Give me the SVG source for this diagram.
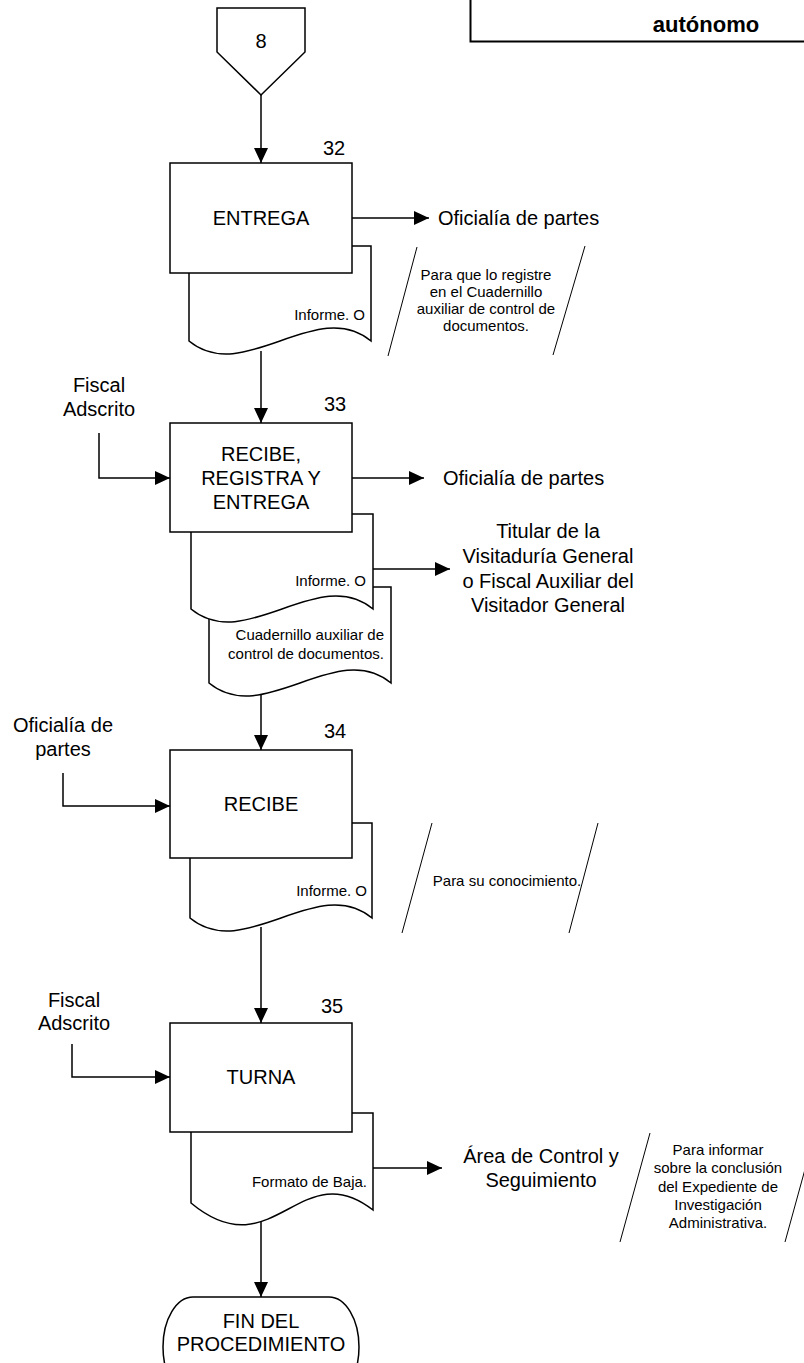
<svg xmlns="http://www.w3.org/2000/svg" width="804" height="1363" viewBox="0 0 804 1363">
<defs>
<marker id="ah" markerUnits="userSpaceOnUse" markerWidth="16" markerHeight="15" refX="15" refY="7" orient="auto">
<path d="M0,0 L15,7 L0,14 Z" fill="#000"/>
</marker>
<style>
text{font-family:"Liberation Sans",Arial,sans-serif;fill:#000}
.big{font-size:20px}
.sm{font-size:15px}
.mid{text-anchor:middle}
.end{text-anchor:end}
.shape{fill:#fff;stroke:#000;stroke-width:1.5}
.conn{fill:none;stroke:#000;stroke-width:1.5;marker-end:url(#ah)}
.slash{stroke:#000;stroke-width:1}
</style>
</defs>
<rect width="804" height="1363" fill="#fff"/>

<g id="header">
<rect x="470.5" y="-20" width="360" height="61.5" fill="#fff" stroke="#000" stroke-width="2"/>
<text x="706" y="32" class="mid" style="font-size:22px;font-weight:bold">autónomo</text>
</g>

<g id="connector8">
<path class="shape" d="M217,8 H305 V52 L261,95 L217,52 Z"/>
<text x="261" y="48" class="big mid">8</text>
</g>

<g id="connectors">
<path class="conn" d="M261,95 V163"/>
<path class="conn" d="M352,218 H429"/>
<path class="conn" d="M261,351 V423"/>
<path class="conn" d="M99,433 V478 H170"/>
<path class="conn" d="M352,478 H424"/>
<path class="conn" d="M373,569 H450"/>
<path class="conn" d="M261,692 V750"/>
<path class="conn" d="M63,773 V806 H170"/>
<path class="conn" d="M261,927 V1023"/>
<path class="conn" d="M72,1044 V1077 H170"/>
<path class="conn" d="M373,1168 H442"/>
<path class="conn" d="M261,1222 V1297"/>
</g>

<g id="step32">
<path class="shape" d="M189,246 H371 V341 C316.4,296 243.6,386 189,341 Z"/>
<rect class="shape" x="170" y="163" width="182" height="110"/>
<text x="323" y="155" class="big">32</text>
<text x="261" y="225" class="big mid">ENTREGA</text>
<text x="365" y="320" class="sm end">Informe. O</text>
</g>
<g id="dest32">
<text x="438" y="225" class="big">Oficialía de partes</text>
</g>
<g id="note32">
<line class="slash" x1="417" y1="247" x2="388" y2="356"/>
<line class="slash" x1="585" y1="246" x2="553" y2="355"/>
<text class="sm mid" x="486" y="280">Para que lo registre</text>
<text class="sm mid" x="486" y="297">en el Cuadernillo</text>
<text class="sm mid" x="486" y="314">auxiliar de control de</text>
<text class="sm mid" x="486" y="331">documentos.</text>
</g>

<g id="src33">
<text x="99" y="392" class="big mid">Fiscal</text>
<text x="99" y="416" class="big mid">Adscrito</text>
</g>
<g id="step33">
<path class="shape" d="M209,587 H391 V683 C336.4,638 263.6,728 209,683 Z"/>
<path class="shape" d="M191,514 H373 V609 C318.4,564 245.6,654 191,609 Z"/>
<rect class="shape" x="170" y="423" width="182" height="109"/>
<text x="324" y="411" class="big">33</text>
<text x="261" y="461" class="big mid">RECIBE,</text>
<text x="261" y="485" class="big mid">REGISTRA Y</text>
<text x="261" y="509" class="big mid">ENTREGA</text>
<text x="366" y="586" class="sm end">Informe. O</text>
<text x="384" y="640" class="sm end">Cuadernillo auxiliar de</text>
<text x="384" y="659" class="sm end">control de documentos.</text>
</g>
<g id="dest33a">
<text x="443" y="485" class="big">Oficialía de partes</text>
</g>
<g id="dest33b">
<text x="548" y="538" class="big mid">Titular de la</text>
<text x="548" y="563" class="big mid">Visitaduría General</text>
<text x="548" y="588" class="big mid">o Fiscal Auxiliar del</text>
<text x="548" y="612" class="big mid">Visitador General</text>
</g>

<g id="src34">
<text x="63" y="732" class="big mid">Oficialía de</text>
<text x="63" y="756" class="big mid">partes</text>
</g>
<g id="step34">
<path class="shape" d="M190,823 H372 V918 C317.4,873 244.6,963 190,918 Z"/>
<rect class="shape" x="170" y="750" width="182" height="108"/>
<text x="324" y="738" class="big">34</text>
<text x="261" y="811" class="big mid">RECIBE</text>
<text x="367" y="896" class="sm end">Informe. O</text>
</g>
<g id="note34">
<line class="slash" x1="432" y1="823" x2="402" y2="933"/>
<line class="slash" x1="598" y1="823" x2="569" y2="933"/>
<text class="sm mid" x="507" y="886">Para su conocimiento.</text>
</g>

<g id="src35">
<text x="74" y="1007" class="big mid">Fiscal</text>
<text x="74" y="1030" class="big mid">Adscrito</text>
</g>
<g id="step35">
<path class="shape" d="M191,1113 H373 V1210 C300.2,1153 272.9,1271 191,1203 Z"/>
<rect class="shape" x="170" y="1023" width="182" height="109"/>
<text x="321" y="1013" class="big">35</text>
<text x="261" y="1084" class="big mid">TURNA</text>
<text x="367" y="1187" class="sm end">Formato de Baja.</text>
</g>
<g id="dest35">
<text x="541" y="1163" class="big mid">Área de Control y</text>
<text x="541" y="1187" class="big mid">Seguimiento</text>
</g>
<g id="note35">
<line class="slash" x1="650" y1="1133" x2="620" y2="1242"/>
<line class="slash" x1="815" y1="1133" x2="785" y2="1242"/>
<text class="sm mid" x="718" y="1155">Para informar</text>
<text class="sm mid" x="718" y="1173">sobre la conclusión</text>
<text class="sm mid" x="718" y="1192">del Expediente de</text>
<text class="sm mid" x="718" y="1210">Investigación</text>
<text class="sm mid" x="718" y="1228">Administrativa.</text>
</g>

<g id="fin">
<rect class="shape" x="163" y="1297" width="196" height="100" rx="30" ry="50"/>
<text x="261" y="1328" class="big mid">FIN DEL</text>
<text x="261" y="1351" class="big mid">PROCEDIMIENTO</text>
</g>
</svg>
